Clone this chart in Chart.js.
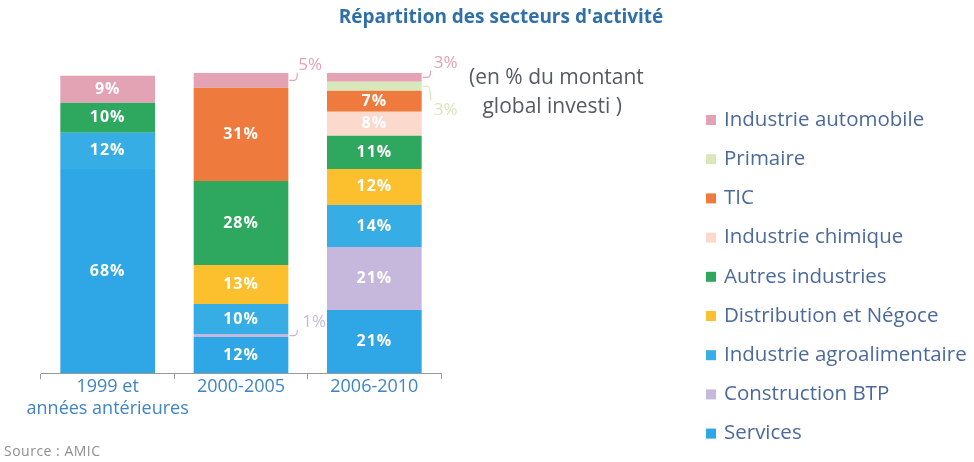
<!DOCTYPE html>
<html>
<head>
<meta charset="utf-8">
<script src="https://cdn.jsdelivr.net/npm/chart.js@4.4.1/dist/chart.umd.min.js"></script>
<style>
  html, body { margin: 0; padding: 0; background: #fff; }
  #wrap { width: 974px; height: 462px; position: relative; }
</style>
</head>
<body>
<div id="wrap"><canvas id="myChart" width="974" height="462"></canvas></div>
<script>
// categories (x axis)
var categories = [['1999 et', 'années antérieures'], '2000-2005', '2006-2010'];

// series, bottom of the stack first
var services = [68, 12, 21];
var constructionBTP = [null, 1, 21];
var agroalimentaire = [12, 10, 14];
var distribution = [null, 13, 12];
var autresIndustries = [10, 28, 11];
var chimique = [null, null, 8];
var tic = [null, 31, 7];
var primaire = [null, null, 3];
var automobile = [9, 5, 3];

var FONT = "'Open Sans', 'DejaVu Sans', sans-serif";

var ctx = document.getElementById("myChart");
var data = {
    labels: categories,
    datasets: [
        { label: 'Services', data: services, backgroundColor: '#2fa6e6' },
        { label: 'Construction BTP', data: constructionBTP, backgroundColor: '#c6b8dd' },
        { label: 'Industrie agroalimentaire', data: agroalimentaire, backgroundColor: '#37ade5' },
        { label: 'Distribution et Négoce', data: distribution, backgroundColor: '#fcc02e' },
        { label: 'Autres industries', data: autresIndustries, backgroundColor: '#2fa85f' },
        { label: 'Industrie chimique', data: chimique, backgroundColor: '#fbdacd' },
        { label: 'TIC', data: tic, backgroundColor: '#ee7b3d' },
        { label: 'Primaire', data: primaire, backgroundColor: '#d9e8bb' },
        { label: 'Industrie automobile', data: automobile, backgroundColor: '#e3a3b5' }
    ]
};

// small values get an outside label with a leader line: [dx, dy] of the label from the bar's top-right corner
var outside = {
    '1-8': [12, -8],    // 5% automobile, 2000-2005
    '1-1': [16, -12],   // 1% BTP
    '2-8': [14, -10],   // 3% automobile, 2006-2010
    '2-7': [14, 28]     // 3% primaire
};

var labelsPlugin = {
    id: 'barLabels',
    afterDatasetsDraw: function(chart) {
        var c = chart.ctx;
        c.save();
        chart.data.datasets.forEach(function(ds, di) {
            var meta = chart.getDatasetMeta(di);
            meta.data.forEach(function(bar, i) {
                var v = ds.data[i];
                if (!v) return;
                var key = i + '-' + di;
                var right = bar.x + bar.width / 2;
                var midY = (bar.y + bar.base) / 2;
                if (outside[key]) {
                    var off = outside[key];
                    var lx = right + off[0], ly = bar.y + off[1];
                    c.strokeStyle = ds.backgroundColor;
                    c.lineWidth = 1.2;
                    c.beginPath();
                    c.moveTo(right + 1, midY);
                    c.lineTo(right + 6, midY);
                    c.quadraticCurveTo(right + 9, midY, right + 9, off[1] > 0 ? ly - 9 : ly + 8);
                    c.stroke();
                    c.fillStyle = ds.backgroundColor;
                    c.font = '17px ' + FONT;
                    c.letterSpacing = '0px';
                    c.textAlign = 'left';
                    c.textBaseline = 'middle';
                    c.fillText(v + '%', lx - 2, ly);
                } else {
                    c.fillStyle = '#fff';
                    c.font = 'bold 16px ' + FONT;
                    c.letterSpacing = '1px';
                    c.textAlign = 'center';
                    c.textBaseline = 'middle';
                    c.fillText(v + '%', bar.x, midY);
                }
            });
        });
        c.restore();
    }
};

var sidePlugin = {
    id: 'sideTexts',
    afterDraw: function(chart) {
        var c = chart.ctx;
        c.save();
        // note
        c.fillStyle = '#555a63';
        c.font = '21px ' + FONT;
        c.textBaseline = 'middle';
        c.textAlign = 'left';
        c.fillText('(en % du montant', 469, 78);
        c.fillText(' global investi )', 477, 107);
        // legend, top of the stack first
        var ds = chart.data.datasets.slice().reverse();
        ds.forEach(function(d, k) {
            var y = 120 + k * 39.2;
            c.fillStyle = d.backgroundColor;
            c.fillRect(706, y - 5, 10, 10);
            c.fillStyle = '#4b6a9c';
            c.font = '20.5px ' + FONT;
            c.fillText(d.label, 724, y);
        });
        // source
        c.fillStyle = '#8f8f8f';
        c.font = '14px ' + FONT;
        c.letterSpacing = '0.5px';
        c.fillText('Source : AMIC', 4, 452);
        c.restore();
    }
};

new Chart(ctx, {
    type: 'bar',
    data: data,
    plugins: [labelsPlugin, sidePlugin],
    options: {
        responsive: false,
        animation: false,
        layout: { padding: { left: 28, right: 0, top: 0, bottom: 45 } },
        datasets: { bar: { barPercentage: 0.71, categoryPercentage: 1 } },
        plugins: {
            legend: { display: false },
            tooltip: { enabled: false },
            title: {
                display: true,
                text: "Répartition des secteurs d'activité",
                color: '#2f70aa',
                font: { family: FONT, size: 19, weight: 'bold' },
                padding: { top: 6, bottom: 44 }
            }
        },
        scales: {
            x: {
                stacked: true,
                grid: { display: true, drawOnChartArea: false, drawTicks: true, tickLength: 6, color: '#999', offset: true },
                border: { display: true, color: '#999' },
                ticks: { color: '#3f84c4', font: { family: FONT, size: 18, lineHeight: 1.22 }, padding: -3, maxRotation: 0, autoSkip: false }
            },
            y: {
                stacked: true, min: 0, max: 100,
                grid: { display: false }, border: { display: false }, ticks: { display: false },
                afterFit: function(a) { a.width = 13; }
            },
            yRight: {
                position: 'right', min: 0, max: 100,
                grid: { display: false }, border: { display: false }, ticks: { display: false },
                afterFit: function(a) { a.width = 533; }
            }
        }
    }
});
</script>
</body>
</html>
